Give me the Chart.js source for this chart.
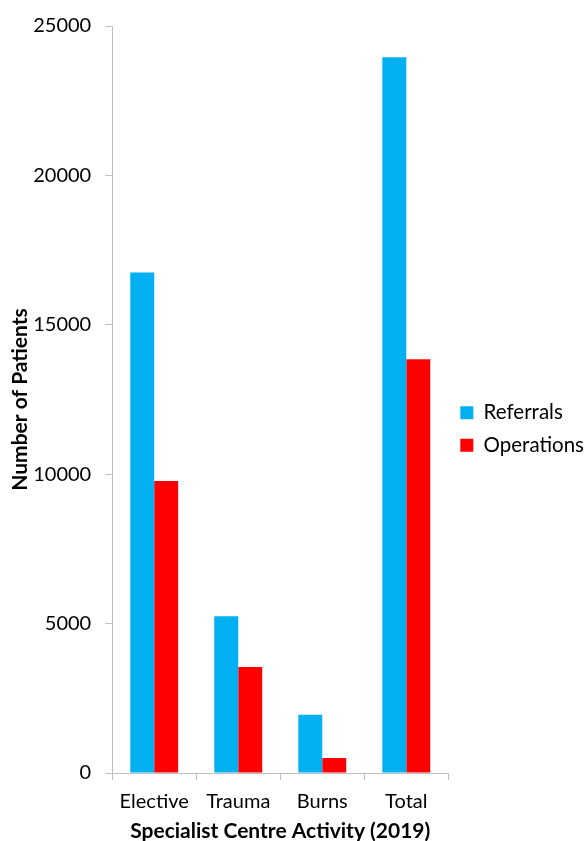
<!DOCTYPE html>
<html>
<head>
<meta charset="utf-8">
<script src="https://cdn.jsdelivr.net/npm/chart.js@4"></script>
<style>
  html, body { margin: 0; padding: 0; background: #fff; }
  #wrap { width: 585px; height: 841px; }
</style>
</head>
<body>
<div id="wrap"><canvas id="chart"></canvas></div>
<script>
// chart data
const categories = ['Elective', 'Trauma', 'Burns', 'Total'];
const referrals = [16750, 5250, 1950, 23950];
const operations = [9770, 3550, 500, 13850];
const yTicks = [0, 5000, 10000, 15000, 20000, 25000];

const FONT = 'Lato, "Open Sans", sans-serif';
const axisGrey = '#bfbfbf';

const ctx = document.getElementById('chart').getContext('2d');
new Chart(ctx, {
    type: 'bar',
    data: {
        labels: categories,
        datasets: [
            {
                label: 'Referrals',
                data: referrals,
                backgroundColor: '#00b0f0',
                categoryPercentage: 0.57,
                barPercentage: 1.0
            },
            {
                label: 'Operations',
                data: operations,
                backgroundColor: '#ff0000',
                categoryPercentage: 0.57,
                barPercentage: 1.0
            }
        ]
    },
    options: {
        responsive: true,
        maintainAspectRatio: false,
        animation: false,
        // negative padding pulls the legend to the edge like the original
        layout: { padding: { top: 17, left: 0, right: -9, bottom: 0 } },
        plugins: {
            legend: {
                position: 'right',
                labels: {
                    boxWidth: 13,
                    boxHeight: 13,
                    padding: 12,
                    color: '#000',
                    font: { family: FONT, size: 20.5 }
                }
            },
            tooltip: { enabled: false }
        },
        scales: {
            x: {
                grid: {
                    display: true,
                    drawOnChartArea: false,
                    offset: true,
                    tickLength: 7,
                    color: axisGrey
                },
                border: { color: axisGrey, width: 1 },
                ticks: {
                    padding: 10,
                    color: '#000',
                    font: { family: FONT, size: 20 }
                },
                title: {
                    display: true,
                    text: 'Specialist Centre Activity (2019)',
                    color: '#000',
                    padding: { top: -3, bottom: -1 },
                    font: { family: FONT, size: 21, weight: 'bold', lineHeight: 1.0 }
                }
            },
            y: {
                min: 0,
                max: 25000,
                afterBuildTicks: axis => { axis.ticks = yTicks.map(v => ({ value: v })); },
                grid: {
                    display: true,
                    drawOnChartArea: false,
                    tickLength: 7,
                    color: axisGrey
                },
                border: { color: axisGrey, width: 1 },
                ticks: {
                    padding: 14,
                    color: '#000',
                    font: { family: FONT, size: 20 },
                    callback: v => String(v)
                },
                title: {
                    display: true,
                    text: 'Number of Patients',
                    color: '#000',
                    padding: { top: 7.5, bottom: -13.5 },
                    font: { family: FONT, size: 21, weight: 'bold' }
                }
            }
        }
    }
});
</script>
</body>
</html>
